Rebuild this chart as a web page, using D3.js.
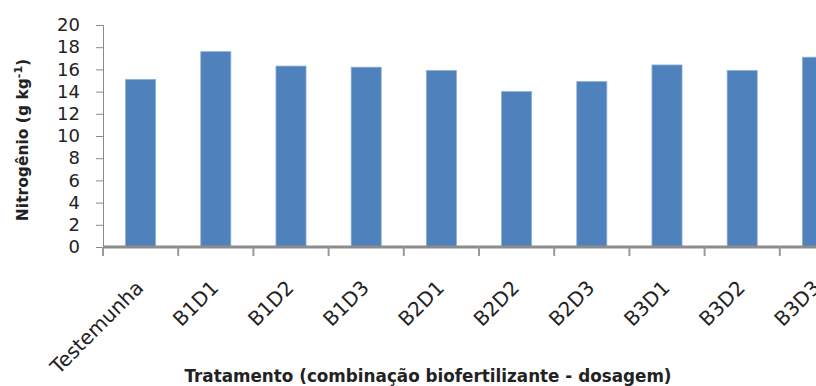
<!DOCTYPE html>
<html>
<head>
<meta charset="utf-8">
<script src="https://cdn.jsdelivr.net/npm/d3@7"></script>
<style>
  body { margin: 0; background: #fff; }
</style>
</head>
<body>
<div id="chart"></div>
<script>
// Data
const categories = ["Testemunha", "B1D1", "B1D2", "B1D3", "B2D1", "B2D2", "B2D3", "B3D1", "B3D2", "B3D3"];
const nitrogen = [15.1, 17.6, 16.3, 16.2, 15.9, 14.0, 14.9, 16.4, 15.9, 17.1];
const yTicks = [0, 2, 4, 6, 8, 10, 12, 14, 16, 18, 20];

const data = categories.map((c, i) => ({ cat: c, value: nitrogen[i] }));

// Dimensions (plot runs off the right edge like the original)
const margin = { top: 25, left: 103 },
      width = 752,
      height = 222;

const svg = d3.select("#chart")
    .append("svg")
    .attr("width", 816)
    .attr("height", 386);

const g = svg.append("g")
    .attr("transform", `translate(${margin.left},${margin.top})`);

// Scales
const x = d3.scaleBand()
    .domain(categories)
    .range([0, width])
    .paddingInner(0)
    .paddingOuter(0);

const y = d3.scaleLinear()
    .domain([0, 20])
    .range([height, 0]);

const barW = x.bandwidth() * 0.4;

// Bars
g.selectAll(".bar")
    .data(data)
    .enter()
    .append("rect")
    .attr("x", d => x(d.cat) + (x.bandwidth() - barW) / 2)
    .attr("y", d => y(d.value))
    .attr("width", barW)
    .attr("height", d => height - y(d.value))
    .attr("fill", "#4f81bd")
    .attr("stroke", "#8fb0d8")
    .attr("stroke-width", 0.8);

// Y axis
const yAxis = g.append("g")
    .call(d3.axisLeft(y).tickValues(yTicks).tickSize(7).tickPadding(16));
yAxis.select(".domain").attr("stroke", "#8a8a8a");
yAxis.selectAll(".tick line").attr("stroke", "#8a8a8a");
yAxis.selectAll("text")
    .attr("font-family", "DejaVu Sans")
    .attr("font-size", 18)
    .attr("fill", "#222");

// X axis: ticks at band edges
const edges = categories.map(c => x(c));
const xAxis = g.append("g")
    .attr("transform", `translate(0,${height})`);
xAxis.append("line")
    .attr("x1", 0)
    .attr("x2", width)
    .attr("stroke", "#8c8c8c")
    .attr("stroke-width", 3);
xAxis.selectAll(".xtick")
    .data(edges)
    .enter()
    .append("line")
    .attr("x1", d => d)
    .attr("x2", d => d)
    .attr("y1", 0)
    .attr("y2", 9)
    .attr("stroke", "#9a9a9a")
    .attr("stroke-width", 2);

// Rotated category labels
xAxis.selectAll(".xlabel")
    .data(categories)
    .enter()
    .append("text")
    .attr("transform", d => `translate(${x(d) + x.bandwidth() / 2 + 4},${42}) rotate(-45)`)
    .attr("text-anchor", "end")
    .attr("font-family", "DejaVu Sans")
    .attr("font-size", 20)
    .attr("fill", "#222")
    .text(d => d);

// X-axis title
svg.append("text")
    .attr("x", 428)
    .attr("y", 382)
    .attr("text-anchor", "middle")
    .attr("font-family", "DejaVu Sans")
    .attr("font-weight", "bold")
    .attr("font-size", 16.8)
    .attr("fill", "#222")
    .text("Tratamento (combinação biofertilizante - dosagem)");

// Y-axis title
const yTitle = svg.append("text")
    .attr("transform", "translate(28,140) rotate(-90)")
    .attr("text-anchor", "middle")
    .attr("font-family", "DejaVu Sans")
    .attr("font-weight", "bold")
    .attr("font-size", 15.5)
    .attr("fill", "#222");
yTitle.append("tspan").text("Nitrogênio (g kg");
yTitle.append("tspan").attr("dy", -6).attr("font-size", 11).text("-1");
yTitle.append("tspan").attr("dy", 6).text(")");
</script>
</body>
</html>
